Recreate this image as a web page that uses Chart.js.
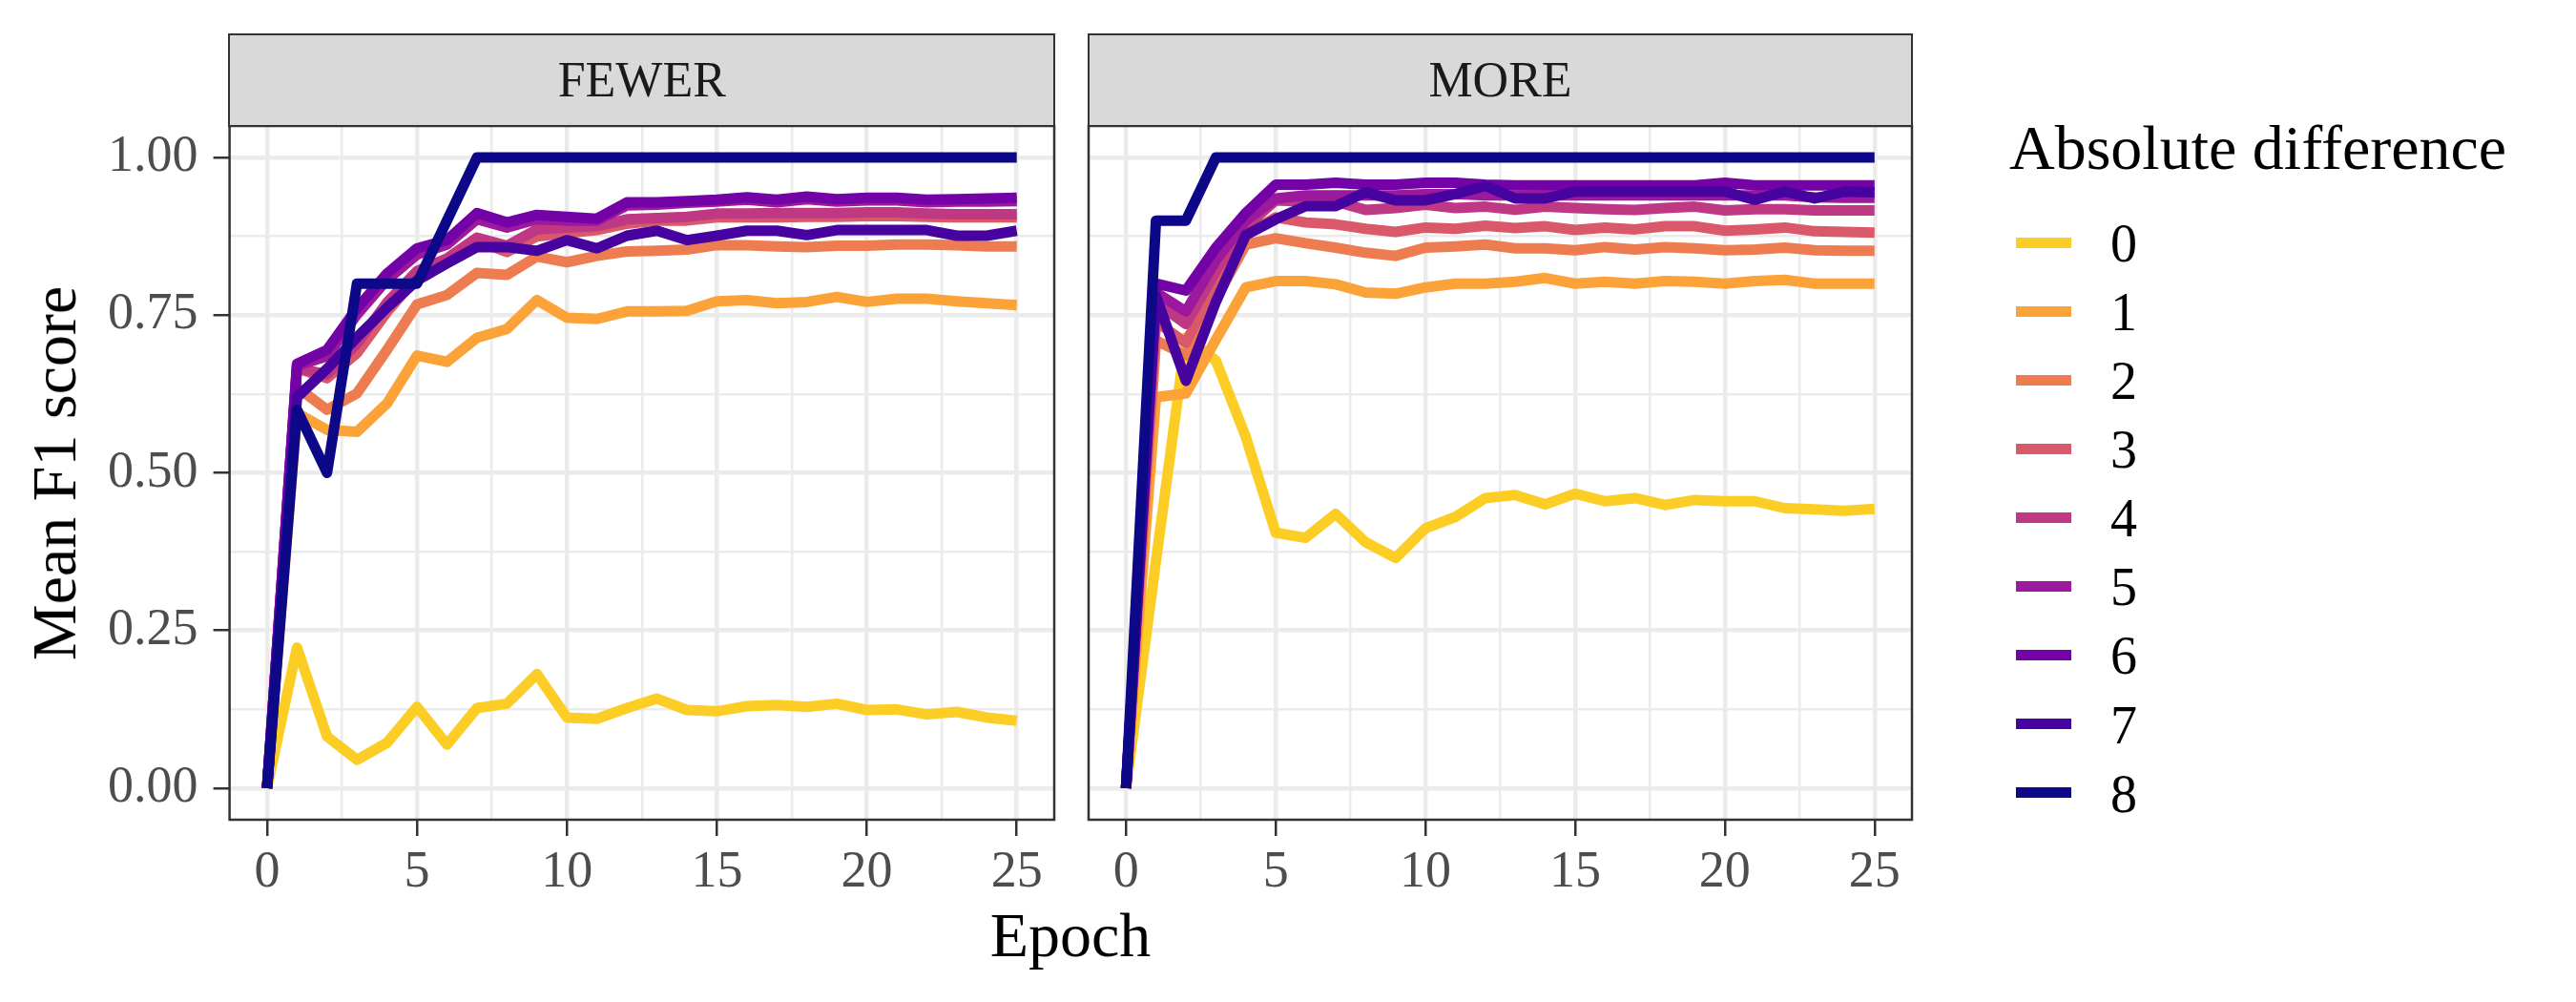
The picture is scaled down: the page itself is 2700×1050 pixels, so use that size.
<!DOCTYPE html>
<html>
<head>
<meta charset="utf-8">
<script src="https://cdn.jsdelivr.net/npm/chart.js@4.4.1/dist/chart.umd.min.js"></script>
<style>
  html, body { margin: 0; padding: 0; background: #ffffff; }
  body { width: 2700px; height: 1050px; position: relative; overflow: hidden; font-family: "Liberation Serif", "DejaVu Serif", serif; }
  canvas { position: absolute; top: 0; }
  .strip { position: absolute; box-sizing: border-box; background: #D9D9D9; border: 2.5px solid #333333;
           color: #1A1A1A; font-size: 52px; text-align: center; white-space: nowrap; }
  .txt { position: absolute; white-space: nowrap; line-height: 1; }
  .key { position: absolute; height: 11px; width: 58px; }
</style>
</head>
<body>
<canvas id="cFewer" width="1165" height="1000" style="left:0px;"></canvas>
<canvas id="cMore" width="983" height="1000" style="left:1081px;"></canvas>
<div id="overlay"></div>
<script>
// ---------------- data ----------------
const epochs = [0,1,2,3,4,5,6,7,8,9,10,11,12,13,14,15,16,17,18,19,20,21,22,23,24,25];
const seriesNames = ['0','1','2','3','4','5','6','7','8'];
const facetNames = ['FEWER','MORE'];

const fewer0 = [0.000,0.223,0.082,0.045,0.072,0.129,0.069,0.127,0.134,0.181,0.112,0.110,0.127,0.142,0.124,0.122,0.130,0.132,0.129,0.134,0.124,0.125,0.117,0.121,0.112,0.107];
const fewer1 = [0.000,0.595,0.568,0.565,0.610,0.686,0.676,0.714,0.728,0.774,0.746,0.744,0.756,0.756,0.757,0.772,0.774,0.769,0.771,0.779,0.771,0.776,0.776,0.772,0.769,0.766];
const fewer2 = [0.000,0.636,0.600,0.626,0.695,0.767,0.782,0.817,0.814,0.843,0.834,0.844,0.851,0.852,0.854,0.861,0.861,0.859,0.858,0.860,0.860,0.862,0.862,0.861,0.859,0.859];
const fewer3 = [0.000,0.666,0.650,0.690,0.755,0.810,0.835,0.868,0.850,0.875,0.880,0.885,0.895,0.900,0.900,0.905,0.905,0.905,0.906,0.906,0.907,0.907,0.906,0.905,0.905,0.905];
const fewer4 = [0.000,0.666,0.656,0.705,0.770,0.820,0.840,0.873,0.860,0.886,0.889,0.891,0.902,0.904,0.906,0.911,0.911,0.912,0.912,0.912,0.913,0.913,0.911,0.910,0.910,0.910];
const fewer5 = [0.000,0.670,0.685,0.751,0.806,0.846,0.862,0.902,0.889,0.902,0.900,0.900,0.924,0.925,0.928,0.930,0.933,0.929,0.934,0.930,0.932,0.932,0.929,0.930,0.930,0.931];
const fewer6 = [0.000,0.673,0.695,0.761,0.816,0.856,0.869,0.912,0.897,0.909,0.906,0.903,0.929,0.929,0.931,0.933,0.937,0.933,0.938,0.934,0.936,0.936,0.933,0.934,0.935,0.936];
const fewer7 = [0.000,0.620,0.665,0.715,0.762,0.805,0.832,0.858,0.858,0.852,0.869,0.856,0.876,0.884,0.869,0.876,0.884,0.884,0.877,0.885,0.885,0.885,0.885,0.876,0.876,0.884];
const fewer8 = [0.000,0.600,0.500,0.800,0.800,0.800,0.900,1.000,1.000,1.000,1.000,1.000,1.000,1.000,1.000,1.000,1.000,1.000,1.000,1.000,1.000,1.000,1.000,1.000,1.000,1.000];

const more0 = [0.000,0.360,0.715,0.678,0.557,0.405,0.397,0.435,0.390,0.365,0.412,0.430,0.460,0.465,0.450,0.467,0.455,0.460,0.449,0.457,0.455,0.455,0.444,0.442,0.440,0.443];
const more1 = [0.000,0.620,0.626,0.711,0.794,0.804,0.804,0.799,0.786,0.784,0.794,0.800,0.800,0.803,0.809,0.800,0.803,0.800,0.804,0.803,0.800,0.804,0.806,0.800,0.800,0.800];
const more2 = [0.000,0.710,0.686,0.776,0.862,0.872,0.864,0.857,0.849,0.844,0.857,0.859,0.862,0.856,0.856,0.853,0.858,0.854,0.858,0.856,0.853,0.854,0.857,0.853,0.852,0.852];
const more3 = [0.000,0.740,0.706,0.800,0.877,0.905,0.897,0.894,0.887,0.882,0.889,0.887,0.892,0.888,0.891,0.885,0.889,0.886,0.891,0.891,0.884,0.886,0.889,0.883,0.882,0.881];
const more4 = [0.000,0.770,0.736,0.820,0.890,0.932,0.930,0.930,0.917,0.920,0.925,0.920,0.922,0.917,0.922,0.920,0.918,0.917,0.920,0.922,0.916,0.918,0.918,0.916,0.916,0.916];
const more5 = [0.000,0.786,0.756,0.837,0.900,0.935,0.940,0.940,0.940,0.940,0.942,0.942,0.940,0.940,0.940,0.940,0.940,0.940,0.940,0.940,0.940,0.940,0.940,0.937,0.936,0.936];
const more6 = [0.000,0.800,0.789,0.857,0.912,0.957,0.957,0.960,0.957,0.957,0.960,0.960,0.957,0.956,0.956,0.956,0.956,0.956,0.956,0.956,0.960,0.956,0.956,0.956,0.956,0.956];
const more7 = [0.000,0.780,0.646,0.771,0.877,0.902,0.923,0.923,0.945,0.932,0.932,0.942,0.955,0.935,0.935,0.946,0.946,0.946,0.946,0.946,0.946,0.933,0.946,0.935,0.946,0.945];
const more8 = [0.000,0.900,0.900,1.000,1.000,1.000,1.000,1.000,1.000,1.000,1.000,1.000,1.000,1.000,1.000,1.000,1.000,1.000,1.000,1.000,1.000,1.000,1.000,1.000,1.000,1.000];

const xMajorTicks = [0,5,10,15,20,25];
const xMinorTicks = [2.5,7.5,12.5,17.5,22.5];
const yMajorTicks = [0,0.25,0.5,0.75,1];
const yMinorTicks = [0.125,0.375,0.625,0.875];
const yTickLabels = ['0.00','0.25','0.50','0.75','1.00'];
const xTickLabels = ['0','5','10','15','20','25'];

const fewerSeries = [fewer0,fewer1,fewer2,fewer3,fewer4,fewer5,fewer6,fewer7,fewer8];
const moreSeries  = [more0,more1,more2,more3,more4,more5,more6,more7,more8];

// ---------------- styles ----------------
const colors = ['#FCCE25','#FBA239','#EE7C51','#D9596A','#BE3884','#9C189C','#7303A7','#46039F','#0D0887'];
const FONT = '"Liberation Serif", "DejaVu Serif", serif';
const GRID = '#EBEBEB';
const DARK = '#333333';

const xAll = xMajorTicks.concat(xMinorTicks).sort((a,b)=>a-b);
const yAll = yMajorTicks.concat(yMinorTicks).sort((a,b)=>a-b);
const isXMajor = v => xMajorTicks.some(t => Math.abs(t - v) < 1e-9);
const isYMajor = v => yMajorTicks.some(t => Math.abs(t - v) < 1e-9);

const borderPlugin = {
  id: 'panelBorder',
  afterDraw(chart) {
    const a = chart.chartArea, ctx = chart.ctx;
    ctx.save();
    ctx.strokeStyle = DARK;
    ctx.lineWidth = 2.5;
    ctx.strokeRect(a.left, a.top, a.right - a.left, a.bottom - a.top);
    ctx.restore();
  }
};

function makeDatasets(seriesList) {
  return seriesList.map((vals, k) => ({
    label: seriesNames[k],
    data: epochs.map((e, i) => ({ x: e, y: vals[i] })),
    borderColor: colors[k],
    backgroundColor: colors[k],
    borderWidth: 11,
    pointRadius: 0,
    pointHoverRadius: 0,
    tension: 0,
    borderJoinStyle: 'round',
    borderCapStyle: 'butt',
    fill: false,
    order: seriesNames.length - 1 - k
  }));
}

function makeChart(id, seriesList, showY) {
  const ctx = document.getElementById(id);
  return new Chart(ctx, {
    type: 'line',
    data: { datasets: makeDatasets(seriesList) },
    plugins: [borderPlugin],
    options: {
      responsive: false,
      animation: false,
      devicePixelRatio: 1,
      events: [],
      layout: { padding: { top: 132, right: 60, bottom: 0, left: showY ? 0 : 60 } },
      plugins: { legend: { display: false }, tooltip: { enabled: false } },
      scales: {
        x: {
          type: 'linear', min: -1.25, max: 26.25,
          afterBuildTicks: s => { s.ticks = xAll.map(v => ({ value: v })); },
          afterFit: s => { s.height = 141; },
          border: { display: false },
          grid: {
            color: GRID,
            lineWidth: c => isXMajor(c.tick.value) ? 4.5 : 2.5,
            drawTicks: true, tickLength: 17, tickWidth: 2.5,
            tickColor: c => isXMajor(c.tick.value) ? DARK : 'rgba(0,0,0,0)'
          },
          ticks: {
            autoSkip: false, maxRotation: 0, minRotation: 0, padding: 6,
            color: '#4D4D4D', font: { family: FONT, size: 54, lineHeight: 1.2 },
            callback: v => { const i = xMajorTicks.findIndex(t => Math.abs(t - v) < 1e-9); return i >= 0 ? xTickLabels[i] : ''; }
          }
        },
        y: {
          type: 'linear', min: -0.05, max: 1.05,
          afterBuildTicks: s => { s.ticks = yAll.map(v => ({ value: v })); },
          afterFit: s => { s.width = showY ? 240.6 : 0; },
          border: { display: false },
          grid: {
            color: GRID,
            lineWidth: c => isYMajor(c.tick.value) ? 4.5 : 2.5,
            drawTicks: showY, tickLength: 17, tickWidth: 2.5,
            tickColor: c => isYMajor(c.tick.value) ? DARK : 'rgba(0,0,0,0)'
          },
          ticks: {
            display: showY, autoSkip: false, padding: 16,
            color: '#4D4D4D', font: { family: FONT, size: 54, lineHeight: 1.2 },
            callback: v => { const i = yMajorTicks.findIndex(t => Math.abs(t - v) < 1e-9); return i >= 0 ? yTickLabels[i] : ''; }
          }
        }
      }
    }
  });
}

const charts = [
  makeChart('cFewer', fewerSeries, true),
  makeChart('cMore', moreSeries, false)
];

// ---------------- html text: strips, titles, legend ----------------
const ov = document.getElementById('overlay');
function addDiv(cls, css, text) {
  const d = document.createElement('div');
  d.className = cls;
  d.style.cssText = css;
  if (text !== undefined) d.textContent = text;
  ov.appendChild(d);
  return d;
}

// strips placed from each chart's plot area
const stripTop = 34.8;
charts.forEach((ch, i) => {
  const a = ch.chartArea;
  const canvasLeft = parseFloat(ch.canvas.style.left);
  const left = canvasLeft + a.left;
  const width = a.right - a.left;
  const h = a.top - stripTop + 1.25;
  addDiv('strip', `left:${left - 1.25}px; top:${stripTop}px; width:${width + 2.5}px; height:${h}px; line-height:${h - 5}px;`, facetNames[i]);
});

// axis titles
addDiv('txt', 'left:56.7px; top:495.5px; font-size:66px; color:#000; transform: translate(-50%,-50%) rotate(-90deg);', 'Mean F1 score');
addDiv('txt', 'left:1122px; top:947px; font-size:66px; color:#000; transform: translateX(-50%);', 'Epoch');

// legend
addDiv('txt', 'left:2106px; top:122px; font-size:66px; color:#000;', 'Absolute difference');
seriesNames.forEach((name, k) => {
  const cy = 254 + 72.1 * k;
  addDiv('key', `left:2113px; top:${cy - 5.5}px; background:${colors[k]};`);
  addDiv('txt', `left:2212px; top:${cy + 19.7 - 46.9}px; font-size:56px; color:#000;`, name);
});
</script>
</body>
</html>
